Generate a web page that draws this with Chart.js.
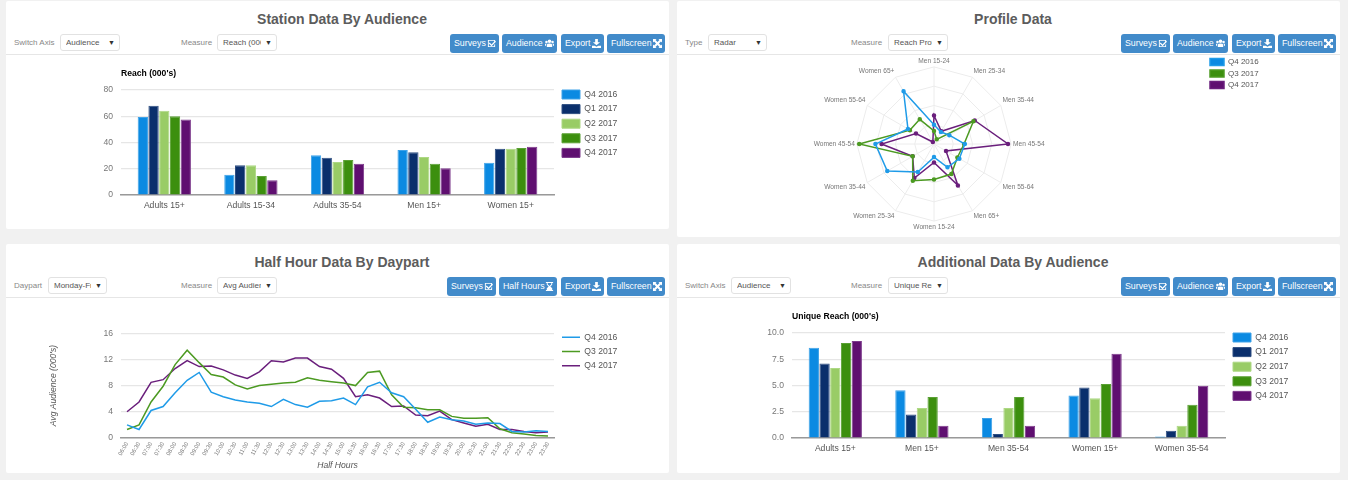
<!DOCTYPE html>
<html>
<head>
<meta charset="utf-8">
<script src="https://cdn.jsdelivr.net/npm/chart.js@4"></script>
<style>
html, body { margin: 0; padding: 0; background: #f1f1f1; width: 1348px; height: 480px; overflow: hidden; font-family: "Liberation Sans", Arial, sans-serif; }
.panel { position: absolute; background: #fff; border-radius: 2px; }
.abs { position: absolute; white-space: nowrap; }
.title { font-size: 14px; font-weight: bold; color: #5c5c5c; transform: translateX(-50%); line-height: 16px; }
.lbl { font-size: 8px; color: #888; line-height: 17px; }
.sel { height: 15px; border: 1px solid #e2e2e2; border-radius: 3px; background: #fff; font-size: 8px; color: #555; line-height: 15px; box-sizing: content-box; }
.sel span { position: absolute; left: 5px; top: 0; overflow: hidden; }
.sel i { position: absolute; right: 4px; top: 0; font-style: normal; font-size: 7px; color: #333; }
.btn { height: 19px; background: #428bca; border-radius: 3px; color: #fff; font-size: 8.8px; line-height: 18px; text-align: left; padding-left: 4px; box-sizing: border-box; }
.btn svg { position: absolute; top: 5px; right: 3px; width: 9px; height: 9px; fill: #fff; }
.rule { height: 1px; background: #e6e6e6; }
canvas { position: absolute; }
</style>
</head>
<body>
<script>
const surveys = ['Q4 2016', 'Q1 2017', 'Q2 2017', 'Q3 2017', 'Q4 2017'];
const lineSurveys = ['Q4 2016', 'Q3 2017', 'Q4 2017'];
const surveyColors = ['#0b8ae2', '#0a2f6c', '#99cc66', '#3c8f0e', '#5f0f70'];
const surveyEdges = ['#3ea2e8', '#2f4f82', '#add884', '#5aa034', '#7d3a8c'];
const lineColors = ['#1f9be8', '#4c9a22', '#6a1f7c'];

// station data by audience
const stationAudiences = ['Adults 15+', 'Adults 15-34', 'Adults 35-54', 'Men 15+', 'Women 15+'];
const stationQ416 = [59.4, 15.5, 30.2, 34.3, 24.6];
const stationQ117 = [68, 22.6, 28.4, 32.5, 35.3];
const stationQ217 = [64.2, 22.6, 25.1, 29, 35.3];
const stationQ317 = [60, 14.5, 26.6, 23.9, 35.8];
const stationQ417 = [57.6, 11.2, 23.9, 20.3, 36.8];

// profile data
const profileGroups = ['Men 15-24', 'Men 25-34', 'Men 35-44', 'Men 45-54', 'Men 55-64', 'Men 65+', 'Women 15-24', 'Women 25-34', 'Women 35-44', 'Women 45-54', 'Women 55-64', 'Women 65+'];
const profileQ416 = [25, 18, 23, 40, 38, 35, 17, 42, 70, 76, 39, 79];
const profileQ317 = [17, 7, 59, 39, 35, 45, 46, 55, 32, 97, 36, 37];
const profileQ417 = [37, 19, 61, 96, 18, 62, 24, 51, 32, 68, 27, 3];

// half hours
const halfHours = ['06:00', '06:30', '07:00', '07:30', '08:00', '08:30', '09:00', '09:30', '10:00', '10:30', '11:00', '11:30', '12:00', '12:30', '13:00', '13:30', '14:00', '14:30', '15:00', '15:30', '16:00', '16:30', '17:00', '17:30', '18:00', '18:30', '19:00', '19:30', '20:00', '20:30', '21:00', '21:30', '22:00', '22:30', '23:00', '23:30'];
const hoursQ416 = [2.0, 1.3, 4.2, 4.8, 6.9, 8.8, 10.0, 7.0, 6.3, 5.8, 5.5, 5.3, 4.8, 5.9, 5.1, 4.7, 5.6, 5.7, 6.1, 5.1, 7.8, 8.5, 6.9, 6.3, 4.4, 2.4, 3.2, 2.8, 2.6, 2.1, 2.3, 2.2, 1.0, 0.9, 1.1, 1.0];
const hoursQ317 = [1.3, 2.0, 5.5, 7.9, 11.2, 13.4, 11.5, 9.7, 9.3, 8.1, 7.5, 8.0, 8.2, 8.4, 8.5, 9.2, 8.8, 8.6, 8.4, 8.0, 10.0, 10.2, 6.6, 4.7, 4.6, 4.3, 4.3, 3.3, 3.0, 3.0, 3.1, 1.4, 0.8, 0.6, 0.4, 0.3];
const hoursQ417 = [4.0, 5.5, 8.5, 8.9, 10.6, 11.8, 10.9, 11.0, 10.4, 9.6, 9.1, 10.1, 11.8, 11.6, 12.2, 12.2, 10.9, 10.5, 9.1, 6.3, 6.6, 6.1, 4.8, 4.9, 3.5, 3.4, 4.1, 2.8, 2.3, 1.8, 2.1, 1.3, 1.3, 1.0, 0.8, 0.9];

// additional data by audience
const extraAudiences = ['Adults 15+', 'Men 15+', 'Men 35-54', 'Women 15+', 'Women 35-54'];
const extraQ416 = [8.6, 4.54, 1.9, 4.06, 0.15];
const extraQ117 = [7.1, 2.25, 0.38, 4.8, 0.7];
const extraQ217 = [6.67, 2.86, 2.86, 3.78, 1.17];
const extraQ317 = [9.05, 3.9, 3.9, 5.14, 3.17];
const extraQ417 = [9.24, 1.17, 1.17, 8.03, 4.98];

const icons = {
    check: '<path d="M1 1h8v2L8 4V2H2v6h6V6.5l1-1V9H1z"/><path d="M3 4l2 2 4-4 1 1-5 5-3-3z"/>',
    users: '<circle cx="5" cy="2.5" r="2"/><circle cx="1.6" cy="3.4" r="1.4"/><circle cx="8.4" cy="3.4" r="1.4"/><path d="M2 9V6.5Q2 5 5 5t3 1.500V9zM0 7V6q0-1 1.500-1L1 8zM10 7V6q0-1-1.500-1L9 8z"/>',
    download: '<path d="M3.500 0h3v3.500H9L5 7 1 3.500h2.500zM0 7.500h3L5 8.500l2-1h3V10H0z"/>',
    expand: '<path d="M0 0h4L2.800 1.200 5 3.400 7.200 1.200 6 0h4v4L8.800 2.800 6.600 5l2.200 2.200L10 6v4H6l1.200-1.200L5 6.600 2.800 8.800 4 10H0V6l1.200 1.200L3.400 5 1.200 2.800 0 4z"/>',
    hourglass: '<path d="M1 0h8v1H8v2L6 5l2 2v2h1v1H1V9h1V7l2-2-2-2V1H1zM3 1v1.600L5 4.500l2-1.900V1z"/>'
};

function add(cls, left, top, width, text) {
    const el = document.createElement('div');
    el.className = 'abs ' + cls;
    el.style.left = left + 'px';
    el.style.top = top + 'px';
    if (width) el.style.width = width + 'px';
    if (text) el.textContent = text;
    document.body.appendChild(el);
    return el;
}

function addSelect(left, top, width, text) {
    const el = add('sel', left, top, width - 2);
    el.innerHTML = '<span style="width:' + (width - 22) + 'px">' + text + '</span><i>&#9660;</i>';
}

function addButton(left, top, width, text, icon) {
    const el = add('btn', left, top, width, text);
    el.insertAdjacentHTML('beforeend', '<svg viewBox="0 0 10 10">' + icons[icon] + '</svg>');
}

function addPanel(p) {
    const box = add('panel', p.left, p.top, p.width);
    box.style.height = p.height + 'px';
    add('title', p.titleX, p.top + 10, 0, p.title);
    const y = p.top + 33;
    add('lbl', p.labelX, y, 0, p.label);
    addSelect(p.selectX, y, p.selectW, p.selectText);
    add('lbl', p.measureX, y, 0, 'Measure');
    addSelect(p.measureSelX, y, 60, p.measureText);
    p.buttons.forEach(b => addButton(b[0], y, b[1], b[2], b[3]));
    add('rule', p.left, p.top + 53, p.width);
}

addPanel({ left: 6, top: 1, width: 663, height: 228, title: 'Station Data By Audience', titleX: 342, label: 'Switch Axis', labelX: 14, selectX: 60, selectW: 60, selectText: 'Audience', measureX: 181, measureSelX: 217, measureText: "Reach (000's)",
    buttons: [[450, 49, 'Surveys', 'check'], [502, 55, 'Audience', 'users'], [561, 43, 'Export', 'download'], [607, 58, 'Fullscreen', 'expand']] });
addPanel({ left: 677, top: 1, width: 663, height: 236, title: 'Profile Data', titleX: 1013, label: 'Type', labelX: 685, selectX: 708, selectW: 59, selectText: 'Radar', measureX: 851, measureSelX: 888, measureText: 'Reach Profile',
    buttons: [[1121, 49, 'Surveys', 'check'], [1173, 55, 'Audience', 'users'], [1232, 43, 'Export', 'download'], [1278, 58, 'Fullscreen', 'expand']] });
addPanel({ left: 6, top: 244, width: 663, height: 229, title: 'Half Hour Data By Daypart', titleX: 342, label: 'Daypart', labelX: 14, selectX: 48, selectW: 59, selectText: 'Monday-Friday', measureX: 181, measureSelX: 217, measureText: 'Avg Audience',
    buttons: [[447, 49, 'Surveys', 'check'], [499, 58, 'Half Hours', 'hourglass'], [561, 43, 'Export', 'download'], [607, 58, 'Fullscreen', 'expand']] });
addPanel({ left: 677, top: 244, width: 663, height: 229, title: 'Additional Data By Audience', titleX: 1013, label: 'Switch Axis', labelX: 685, selectX: 731, selectW: 60, selectText: 'Audience', measureX: 851, measureSelX: 888, measureText: 'Unique Reach',
    buttons: [[1121, 49, 'Surveys', 'check'], [1173, 55, 'Audience', 'users'], [1232, 43, 'Export', 'download'], [1278, 58, 'Fullscreen', 'expand']] });

Chart.defaults.font.family = '"Liberation Sans", Arial, sans-serif';
Chart.defaults.animation = false;

// moves the legend to a fixed spot inside the canvas
const legendSpot = {
    id: 'legendSpot',
    afterLayout(chart, args, opts) {
        const pad = chart.legend.options.labels.padding;
        chart.legend.left = opts.x - pad;
        chart.legend.top = opts.y - pad;
        chart.legend.right = chart.width;
        chart.legend.bottom = chart.height;
    }
};

function addCanvas(left, top, width, height) {
    const c = document.createElement('canvas');
    c.width = width;
    c.height = height;
    c.style.left = left + 'px';
    c.style.top = top + 'px';
    c.style.width = width + 'px';
    c.style.height = height + 'px';
    document.body.appendChild(c);
    return c;
}

function barChart(left, top, width, labels, rows, title, tickFmt, max, step, legendX) {
    new Chart(addCanvas(left, top, width, 147), {
        type: 'bar',
        plugins: [legendSpot],
        data: {
            labels: labels,
            datasets: rows.map((r, i) => ({
                label: surveys[i], data: r,
                backgroundColor: surveyColors[i], borderColor: surveyEdges[i], borderWidth: 1
            }))
        },
        options: {
            responsive: false,
            layout: { padding: { right: 111 } },
            datasets: { bar: { categoryPercentage: 0.62, barPercentage: 0.96 } },
            scales: {
                x: {
                    grid: { display: false, drawTicks: false },
                    border: { color: '#999', width: 1.5 },
                    ticks: { color: '#555', font: { size: 8.6 }, padding: 5, maxRotation: 0 },
                    afterFit: s => { s.height = 20; }
                },
                y: {
                    min: 0, max: max,
                    grid: { color: '#e6e6e6', lineWidth: 1.2, drawTicks: false },
                    border: { display: false },
                    ticks: { color: '#777', font: { size: 8.6 }, padding: 8, stepSize: step, callback: tickFmt },
                    afterFit: s => { s.width = 61; }
                }
            },
            plugins: {
                title: { display: true, text: title, align: 'start', fullSize: false, color: '#000', font: { size: 8.6, weight: 'bold' }, padding: { top: 0, bottom: 11.7 } },
                legend: { position: 'chartArea', align: 'start', labels: { boxWidth: 18, boxHeight: 9, padding: 5.6, color: '#555', font: { size: 8.6 } } },
                legendSpot: { x: legendX, y: 22 }
            }
        }
    });
}

barChart(60, 68, 605, stationAudiences, [stationQ416, stationQ117, stationQ217, stationQ317, stationQ417], "Reach (000's)", v => v, 80, 20, 502);
barChart(731, 311, 605, extraAudiences, [extraQ416, extraQ117, extraQ217, extraQ317, extraQ417], "Unique Reach (000's)", v => v.toFixed(1), 10, 2.5, 502);

// radar
new Chart(addCanvas(678, 57, 662, 174), {
    type: 'radar',
    plugins: [legendSpot],
    data: {
        labels: profileGroups,
        datasets: [profileQ416, profileQ317, profileQ417].map((r, i) => ({
            label: lineSurveys[i], data: r, fill: false,
            backgroundColor: [surveyColors[0], surveyColors[3], surveyColors[4]][i],
            borderColor: lineColors[i], borderWidth: 1.5,
            pointBackgroundColor: lineColors[i], pointBorderColor: lineColors[i], pointRadius: 1.5
        }))
    },
    options: {
        responsive: false,
        layout: { padding: { right: 150 } },
        scales: {
            r: {
                min: 0, max: 100,
                ticks: { display: false, stepSize: 25 },
                grid: { color: '#ececec' },
                angleLines: { color: '#ececec' },
                pointLabels: { color: '#777', font: { size: 6.6 }, padding: 2 }
            }
        },
        plugins: {
            legend: { position: 'chartArea', align: 'start', labels: { boxWidth: 14, boxHeight: 7, padding: 3.5, color: '#555', font: { size: 8 } } },
            legendSpot: { x: 532, y: 1 }
        }
    }
});

// half hour lines
new Chart(addCanvas(48, 320, 617, 151), {
    type: 'line',
    plugins: [legendSpot],
    data: {
        labels: halfHours,
        datasets: [hoursQ416, hoursQ317, hoursQ417].map((r, i) => ({
            label: lineSurveys[i], data: r,
            borderColor: lineColors[i], backgroundColor: lineColors[i], borderWidth: 1.5,
            pointRadius: 0, pointStyle: 'line', tension: 0
        }))
    },
    options: {
        responsive: false,
        layout: { padding: { top: 13, right: 111 } },
        scales: {
            x: {
                offset: true,
                grid: { display: false, drawTicks: false, offset: true },
                border: { color: '#999', width: 1.5 },
                ticks: { color: '#777', font: { size: 5.8 }, padding: 3, minRotation: 60, maxRotation: 60, autoSkip: false },
                title: { display: true, text: 'Half Hours', color: '#555', font: { size: 8.6, style: 'italic' }, padding: 0 },
                afterFit: s => { s.height = 33; }
            },
            y: {
                min: 0, max: 16,
                grid: { color: '#e6e6e6', lineWidth: 1.2, drawTicks: false },
                border: { display: false },
                ticks: { color: '#777', font: { size: 8.6 }, padding: 8, stepSize: 4 },
                title: { display: true, text: "Avg Audience (000's)", color: '#555', font: { size: 8.6, style: 'italic' }, padding: 0 },
                afterFit: s => { s.width = 73; }
            }
        },
        plugins: {
            legend: { position: 'chartArea', align: 'start', labels: { usePointStyle: true, pointStyleWidth: 18, boxHeight: 9, padding: 5.6, color: '#555', font: { size: 8.6 } } },
            legendSpot: { x: 514, y: 13 }
        }
    }
});
</script>
</body>
</html>
